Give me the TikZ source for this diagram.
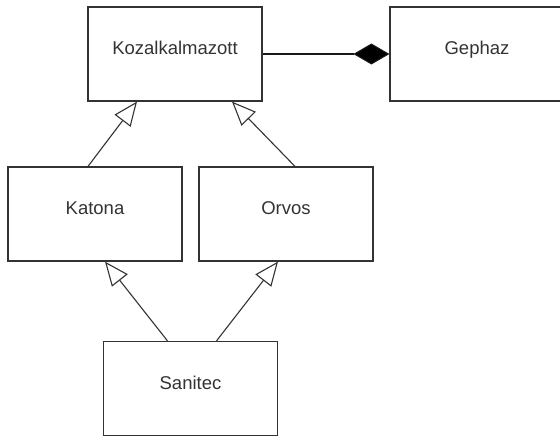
\documentclass[tikz,border=0pt]{standalone}
\usepackage{fontspec}
\setmainfont{Liberation Sans}
\usetikzlibrary{arrows.meta}

\tikzset{
  classbox/.style={draw=black!80,line width=1.2pt,minimum width=174pt,minimum height=94pt,
    inner sep=0pt,text height=14pt,text depth=13pt,text=black!80,
    font=\fontsize{18.5}{22}\selectfont},
  inherit/.style={draw=black!80,line width=1.1pt,-{Triangle[open,length=24pt,width=20pt]}},
  compose/.style={draw=black!90,line width=1.1pt,-{Diamond[length=36pt,width=21pt,fill=black]}}
}

\begin{document}
\begin{tikzpicture}[x=1pt,y=-1pt]
\useasboundingbox (0,0) rectangle (560,436);
\begin{scope}
\clip (0,0) rectangle (560,436);

\node[classbox] (kozal)   at (175,54)    {Kozalkalmazott};
\node[classbox] (gephaz)  at (477,54)    {Gephaz};
\node[classbox] (katona)  at (95,214)    {Katona};
\node[classbox] (orvos)   at (286,214)   {Orvos};
\node[classbox] (sanitec) at (190.5,388.5) {Sanitec};

\draw[compose] (kozal.east) -- (gephaz.west);

\draw[inherit] ([xshift=-7pt]katona.north) -- ([xshift=-38pt]kozal.south);
\draw[inherit] ([xshift=9pt]orvos.north) -- ([xshift=57pt]kozal.south);
\draw[inherit] ([xshift=-23pt]sanitec.north) -- ([xshift=10pt]katona.south);
\draw[inherit] ([xshift=26pt]sanitec.north) -- ([xshift=-8pt]orvos.south);
\end{scope}
\end{tikzpicture}
\end{document}
